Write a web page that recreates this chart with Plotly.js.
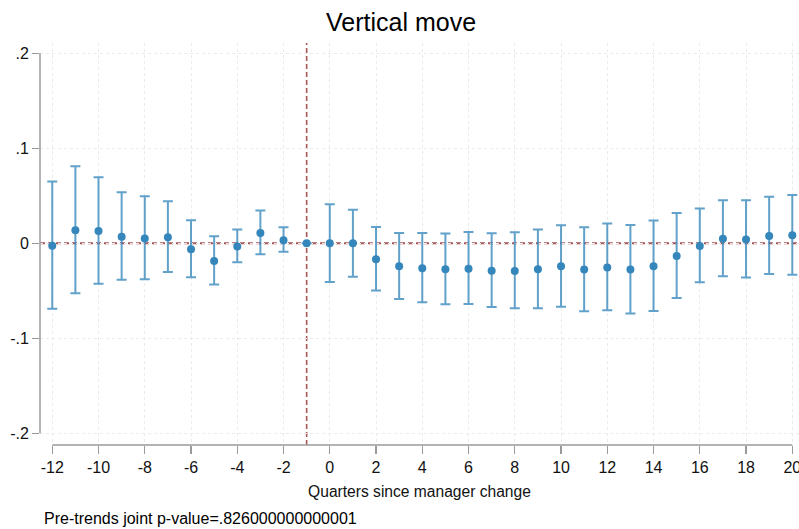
<!DOCTYPE html>
<html>
<head>
<meta charset="utf-8">
<script src="https://cdn.plot.ly/plotly-3.0.1.min.js"></script>
<style>
  html, body { margin: 0; padding: 0; background: #fff; overflow: hidden; }
  #chart { width: 815px; height: 529px; }
</style>
</head>
<body>
<div id="chart"></div>
<script>
// Event-study estimates: quarters relative to the manager change (t = -1 omitted)
const quarters = [-12, -11, -10, -9, -8, -7, -6, -5, -4, -3, -2, -1,
                  0, 1, 2, 3, 4, 5, 6, 7, 8, 9, 10,
                  11, 12, 13, 14, 15, 16, 17, 18, 19, 20];
const coef = [-0.0025, 0.0137, 0.0130, 0.0070, 0.0050, 0.0063, -0.0063, -0.0186, -0.0035, 0.0109, 0.0032, 0.0,
              0.0, 0.0, -0.0168, -0.0242, -0.0263, -0.0274, -0.0267, -0.0288, -0.0291, -0.0274, -0.0242,
              -0.0277, -0.0256, -0.0277, -0.0242, -0.0133, -0.0028, 0.0049, 0.0039, 0.0077, 0.0084];
const ciHigh = [0.0650, 0.0810, 0.0695, 0.0537, 0.0495, 0.0442, 0.0242, 0.0074, 0.0144, 0.0344, 0.0168, 0.0,
                0.0410, 0.0354, 0.0172, 0.0109, 0.0109, 0.0102, 0.0119, 0.0105, 0.0116, 0.0144, 0.0189,
                0.0168, 0.0207, 0.0193, 0.0239, 0.0319, 0.0365, 0.0453, 0.0453, 0.0491, 0.0509];
const ciLow = [-0.0688, -0.0526, -0.0425, -0.0383, -0.0379, -0.0302, -0.0358, -0.0435, -0.0200, -0.0116, -0.0088, 0.0,
               -0.0407, -0.0351, -0.0498, -0.0586, -0.0621, -0.0642, -0.0639, -0.0670, -0.0684, -0.0684, -0.0667,
               -0.0716, -0.0705, -0.0740, -0.0712, -0.0575, -0.0410, -0.0347, -0.0361, -0.0323, -0.0330];

const xTicks = [-12, -10, -8, -6, -4, -2, 0, 2, 4, 6, 8, 10, 12, 14, 16, 18, 20];
const xTickText = ['-12', '-10', '-8', '-6', '-4', '-2', '0', '2', '4', '6', '8', '10', '12', '14', '16', '18', '20'];
const yTicks = [-0.2, -0.1, 0, 0.1, 0.2];
const yTickText = ['-.2', '-.1', '0', '.1', '.2'];

const titleText = 'Vertical move';
const xTitleText = 'Quarters since manager change';
const noteText = 'Pre-trends joint p-value=.826000000000001';
const eventQuarter = -1;

const markColor = 'rgb(52,134,187)';
const barColor = 'rgba(52,134,187,0.78)';
const refColor = 'rgb(168,86,88)';
const axisColor = '#9a9a9a';
const font = 'Liberation Sans, Arial, Helvetica, sans-serif';

const trace = {
  x: quarters,
  y: coef,
  type: 'scatter',
  mode: 'markers',
  marker: { color: markColor, size: 8 },
  error_y: {
    type: 'data',
    symmetric: false,
    array: ciHigh.map((h, i) => h - coef[i]),
    arrayminus: coef.map((c, i) => c - ciLow[i]),
    color: barColor,
    thickness: 2,
    width: 5
  },
  hoverinfo: 'x+y'
};

const layout = {
  width: 815,
  height: 529,
  margin: { l: 40, r: 16, t: 43, b: 84 },
  paper_bgcolor: '#ffffff',
  plot_bgcolor: '#ffffff',
  showlegend: false,
  font: { family: font, size: 16, color: '#111' },
  title: {
    text: titleText,
    font: { family: font, size: 25, color: '#000' },
    x: 401 / 815, xref: 'container', xanchor: 'center',
    y: 0.958, yref: 'container', yanchor: 'middle'
  },
  xaxis: {
    range: [-12.53, 20.29],
    tickmode: 'array',
    tickvals: xTicks,
    ticktext: xTickText,
    ticks: 'outside',
    ticklen: 8,
    tickwidth: 1.3,
    tickcolor: axisColor,
    showline: false,
    zeroline: false,
    showgrid: true,
    gridcolor: '#ebebeb',
    griddash: 'dot',
    gridwidth: 1,
    tickfont: { family: font, size: 16, color: '#111' },
    title: { text: xTitleText, font: { family: font, size: 15.6, color: '#111' }, standoff: 10 },
    fixedrange: true
  },
  yaxis: {
    range: [-0.2123, 0.2108],
    tickmode: 'array',
    tickvals: yTicks,
    ticktext: yTickText,
    ticks: 'outside',
    ticklen: 7,
    tickwidth: 1.3,
    tickcolor: axisColor,
    showline: false,
    zeroline: false,
    showgrid: true,
    gridcolor: '#ebebeb',
    griddash: 'dot',
    gridwidth: 1,
    tickfont: { family: font, size: 16, color: '#111' },
    fixedrange: true
  },
  shapes: [
    // axis lines spanning only the labelled range
    { type: 'line', xref: 'paper', yref: 'y', x0: 0, x1: 0, y0: -0.2, y1: 0.2,
      line: { color: axisColor, width: 1.5 }, layer: 'above' },
    { type: 'line', xref: 'x', yref: 'paper', x0: -12, x1: 20, y0: 0, y1: 0,
      line: { color: axisColor, width: 1.5 }, layer: 'above' },
    // reference lines: zero effect and the event quarter
    { type: 'line', xref: 'paper', yref: 'y', x0: 0, x1: 1, y0: 0, y1: 0,
      line: { color: refColor, width: 2, dash: '5px,3px' }, layer: 'between' },
    { type: 'line', xref: 'x', yref: 'paper', x0: eventQuarter, x1: eventQuarter, y0: 0, y1: 1,
      line: { color: refColor, width: 1.6, dash: '5px,3px' }, layer: 'between' }
  ],
  annotations: [
    { text: noteText, xref: 'paper', yref: 'paper', x: 0.003, y: -0.182,
      xanchor: 'left', yanchor: 'middle', showarrow: false,
      font: { family: font, size: 16, color: '#000' } }
  ]
};

Plotly.newPlot('chart', [trace], layout, { displayModeBar: false, staticPlot: true });
</script>
</body>
</html>
